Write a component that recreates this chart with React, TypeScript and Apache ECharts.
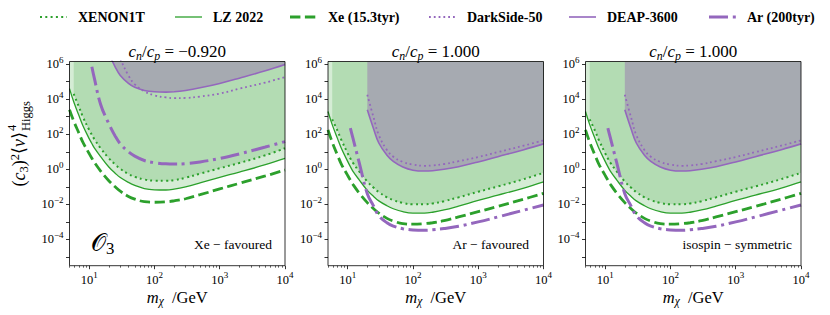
import React, { useEffect, useRef } from "react";
import * as echarts from "echarts";

// Dark-matter mass grid (GeV)
const masses = [5, 5.8, 7, 8, 10, 11, 12, 15, 20, 25, 30, 40, 50, 70, 100, 150, 200, 300, 500, 1000, 2000, 5000, 10000];
const N = null;

// Panel 1: c_n/c_p = -0.920 (log10 of (c3)^2 <v>^4)
const xenon1tP1 = [N, 4.3, 3.55, 3.0, 2.25, 1.97, 1.72, 1.2, 0.63, 0.28, 0.03, -0.27, -0.43, -0.58, -0.65, -0.66, -0.62, -0.48, -0.25, 0.06, 0.36, 0.8, 1.2];
const lzP1 = [4.6, 3.85, 3.05, 2.5, 1.75, 1.47, 1.22, 0.72, 0.13, -0.22, -0.47, -0.75, -0.92, -1.1, -1.17, -1.18, -1.13, -1.0, -0.78, -0.46, -0.16, 0.26, 0.62];
const xeP1 = [3.4, 2.75, 2.05, 1.55, 0.9, 0.63, 0.4, -0.1, -0.65, -1.0, -1.25, -1.55, -1.7, -1.85, -1.88, -1.86, -1.8, -1.68, -1.45, -1.12, -0.8, -0.38, -0.04];
const darksideP1 = [N, N, N, N, N, N, N, N, 7.8, 7.0, 6.3, 5.35, 4.85, 4.45, 4.22, 4.1, 4.06, 4.07, 4.15, 4.32, 4.6, 4.95, 5.26];
const deapP1 = [N, N, N, N, N, N, N, N, 6.6, 5.85, 5.35, 4.9, 4.68, 4.5, 4.42, 4.4, 4.42, 4.5, 4.65, 4.9, 5.2, 5.62, 5.98];
const arP1 = [N, N, N, N, N, 5.85, 5.2, 3.7, 2.6, 1.9, 1.45, 1.0, 0.75, 0.5, 0.38, 0.31, 0.3, 0.32, 0.42, 0.62, 0.88, 1.27, 1.58];

// Panels 2 and 3: c_n/c_p = 1.000
const xenon1tIso = [N, 2.85, 2.2, 1.68, 0.92, 0.62, 0.38, -0.12, -0.7, -1.05, -1.3, -1.6, -1.76, -1.92, -2.0, -2.0, -1.95, -1.82, -1.6, -1.28, -0.98, -0.56, -0.2];
const lzIso = [3.3, 2.55, 1.75, 1.2, 0.45, 0.15, -0.1, -0.6, -1.2, -1.55, -1.8, -2.08, -2.25, -2.42, -2.5, -2.5, -2.45, -2.32, -2.1, -1.78, -1.48, -1.07, -0.72];
const xeIso = [2.25, 1.55, 0.8, 0.3, -0.35, -0.62, -0.85, -1.35, -1.9, -2.25, -2.5, -2.8, -2.95, -3.1, -3.13, -3.1, -3.05, -2.93, -2.72, -2.42, -2.12, -1.7, -1.37];
const darksideIso = [N, N, N, N, N, N, N, N, 4.25, 2.95, 1.95, 1.1, 0.72, 0.42, 0.27, 0.2, 0.22, 0.3, 0.46, 0.7, 0.98, 1.35, 1.65];
const deapIso = [N, N, N, N, N, N, N, N, 3.4, 2.3, 1.5, 0.8, 0.45, 0.13, -0.05, -0.1, -0.08, 0.0, 0.15, 0.42, 0.72, 1.12, 1.45];
const arIso = [N, N, N, N, N, 2.35, 1.8, 0.4, -1.4, -2.1, -2.65, -3.05, -3.24, -3.39, -3.46, -3.48, -3.45, -3.38, -3.25, -3.0, -2.72, -2.33, -2.04];

const panelRatios = ["−0.920", "1.000", "1.000"];
const panelNotes = ["Xe − favoured", "Ar − favoured", "isospin − symmetric"];
const legendNames = ["XENON1T", "LZ 2022", "Xe (15.3tyr)", "DarkSide-50", "DEAP-3600", "Ar (200tyr)"];

const xMajorExp = [1, 2, 3, 4];
const yTickExp = [-5, -4, -3, -2, -1, 0, 1, 2, 3, 4, 5, 6];
const yLabelExp = [-4, -2, 0, 2, 4, 6];

const FONT = "Liberation Serif, DejaVu Serif, serif";
const GREEN = "#2ca02c";
const PURPLE = "#9467bd";
const GRID_LEFTS = [69.5, 328, 585.5];
const GRID_TOP = 61.5;
const GRID_W = 215.5;
const GRID_H = 204.2;
const NOTE_RIGHT = [272, 529, 792];
const X_MIN = Math.log10(5);
const X_MAX = 4;
const Y_MIN = -5.5;
const Y_MAX = 6.15;

const xMinor: number[] = [];
for (let e = 0; e < 4; e++) {
  for (let k = 2; k < 10; k++) {
    const v = Math.log10(k) + e;
    if (v >= X_MIN - 1e-9 && v <= X_MAX) xMinor.push(v);
  }
}

const panelData = [
  { xenon1t: xenon1tP1, lz: lzP1, xe: xeP1, darkside: darksideP1, deap: deapP1, ar: arP1 },
  { xenon1t: xenon1tIso, lz: lzIso, xe: xeIso, darkside: darksideIso, deap: deapIso, ar: arIso },
  { xenon1t: xenon1tIso, lz: lzIso, xe: xeIso, darkside: darksideIso, deap: deapIso, ar: arIso },
];

const curveStyles = [
  { key: "xenon1t", color: GREEN, width: 2, dash: [2, 3.3] as any },
  { key: "lz", color: GREEN, width: 1.3, dash: "solid" as any },
  { key: "xe", color: GREEN, width: 2.8, dash: [10.4, 4.5] as any },
  { key: "darkside", color: PURPLE, width: 1.8, dash: [1.8, 3] as any },
  { key: "deap", color: PURPLE, width: 1.6, dash: "solid" as any },
  { key: "ar", color: PURPLE, width: 3, dash: [19, 4.8, 3, 4.8] as any },
];
const legendX = [40, 175, 290, 429, 569, 709];

function pts(vals: (number | null)[]) {
  const out: number[][] = [];
  masses.forEach((m, i) => {
    const v = vals[i];
    if (v !== null && v !== undefined) out.push([Math.log10(m), v]);
  });
  return out;
}

function expStr(v: number) {
  const s = Math.round(v);
  return s < 0 ? "−" + -s : String(s);
}

const tok = (size: number, lh: number, va: string, italic = false, family = FONT) => ({
  fontFamily: family,
  fontSize: size,
  fontStyle: italic ? "italic" : "normal",
  color: "#000",
  lineHeight: lh,
  verticalAlign: va,
});

const tickRich = {
  b: tok(12.5, 18, "middle"),
  s: tok(9, 9, "top"),
};

const mathRich = (size: number) => ({
  i: tok(size, size + 4, "middle", true),
  r: tok(size, size + 4, "middle"),
  sb: tok(size * 0.7, size * 0.55, "bottom"),
  sbi: tok(size * 0.7, size * 0.55, "bottom", true),
  sp: tok(size * 0.7, size * 0.55, "top"),
  o: tok(size, size + 4, "middle", false, "DejaVu Sans, Noto Sans, serif"),
});

export default function App() {
  const ref = useRef<HTMLDivElement>(null);
  useEffect(() => {
    if (!ref.current) return;
    const chart = echarts.init(ref.current, undefined, { renderer: "svg" });
    const grids: any[] = [];
    const xAxes: any[] = [];
    const yAxes: any[] = [];
    const series: any[] = [];
    const graphics: any[] = [];

    GRID_LEFTS.forEach((left, p) => {
      grids.push({ left, top: GRID_TOP, width: GRID_W, height: GRID_H, containLabel: false });
      xAxes.push({
        gridIndex: p, type: "value", position: "bottom", min: X_MIN, max: X_MAX,
        axisLine: { show: false, onZero: false }, splitLine: { show: false },
        axisTick: { show: true, customValues: xMajorExp, length: 3.5, lineStyle: { color: "#000", width: 0.8 } },
        axisLabel: { show: true, customValues: xMajorExp, margin: 5, fontFamily: FONT, formatter: (v: number) => `{b|10}{s|${expStr(v)}}`, rich: tickRich },
      });
      xAxes.push({
        gridIndex: p, type: "value", position: "bottom", min: X_MIN, max: X_MAX,
        axisLine: { show: false, onZero: false }, splitLine: { show: false },
        axisTick: { show: true, customValues: xMinor, length: 2, lineStyle: { color: "#000", width: 0.6 } },
        axisLabel: { show: false },
      });
      yAxes.push({
        gridIndex: p, type: "value", min: Y_MIN, max: Y_MAX,
        axisLine: { show: false, onZero: false }, splitLine: { show: false },
        axisTick: { show: true, customValues: yTickExp, length: 3.5, lineStyle: { color: "#000", width: 0.8 } },
        axisLabel: { show: true, customValues: yLabelExp, margin: 6, fontFamily: FONT, formatter: (v: number) => `{b|10}{s|${expStr(v)}}`, rich: tickRich },
      });

      const d: any = panelData[p];
      const common = { xAxisIndex: 2 * p, yAxisIndex: p, symbol: "none", smooth: 0.4, silent: true, animation: false };
      ["lz", "xenon1t"].forEach((k) => {
        series.push({
          ...common, type: "line", data: pts(d[k]), z: 1,
          lineStyle: { width: 0, opacity: 0 },
          areaStyle: { origin: "end", color: "rgba(44,160,44,0.2)", opacity: 1 },
        });
      });
      series.push({
        ...common, type: "line", data: pts(d.deap), z: 2,
        lineStyle: { width: 0, opacity: 0 },
        areaStyle: { origin: "end", color: "#a6aab1", opacity: 1 },
      });
      curveStyles.forEach((cs) => {
        series.push({
          ...common, type: "line", data: pts(d[cs.key]), z: 3,
          lineStyle: { color: cs.color, width: cs.width, type: cs.dash },
        });
      });

      const cx = left + GRID_W / 2;
      graphics.push({
        type: "rect", z: 100, silent: true,
        shape: { x: left, y: GRID_TOP, width: GRID_W, height: GRID_H },
        style: { fill: "none", stroke: "#000", lineWidth: 0.8 },
      });
      graphics.push({
        type: "text", z: 100, x: cx, y: 51,
        style: {
          text: `{i|c}{sbi|n}{r|/}{i|c}{sbi|p}{r| = ${panelRatios[p]}}`, font: `17px ${FONT}`,
          rich: mathRich(17), textAlign: "center", textVerticalAlign: "middle", verticalAlign: "middle", align: "center",
        },
      });
      graphics.push({
        type: "text", z: 100, x: cx, y: 297,
        style: {
          text: `{i|m}{sbi|χ}{r|  /GeV}`, font: `16.5px ${FONT}`,
          rich: mathRich(16.5), textAlign: "center", textVerticalAlign: "middle", verticalAlign: "middle", align: "center",
        },
      });
      graphics.push({
        type: "text", z: 100, x: NOTE_RIGHT[p], y: 244,
        style: {
          text: panelNotes[p], font: `13.5px ${FONT}`, fill: "#000",
          textAlign: "right", textVerticalAlign: "middle", verticalAlign: "middle", align: "right",
        },
      });
    });

    graphics.push({
      type: "text", z: 100, x: 91, y: 243,
      style: {
        text: `{o|𝒪}{sb|3}`, font: `24px ${FONT}`, rich: mathRich(24),
        textAlign: "left", textVerticalAlign: "middle", verticalAlign: "middle", align: "left",
      },
    });

    graphics.push({
      type: "group", x: 19, y: 132, rotation: Math.PI / 2,
      children: [
        {
          type: "text", x: 0, y: 0,
          style: {
            text: `{r|(}{i|c}{sb|3}{r|)}{sp|2}{r|⟨}{i|v}{r|⟩}`, font: `18px ${FONT}`, rich: mathRich(18),
            textAlign: "right", textVerticalAlign: "middle", verticalAlign: "middle", align: "right",
          },
        },
        {
          type: "text", x: 1, y: -7,
          style: { text: "4", font: `12.5px ${FONT}`, fill: "#000", textAlign: "left", textVerticalAlign: "middle", verticalAlign: "middle", align: "left" },
        },
        {
          type: "text", x: 1, y: 7,
          style: { text: "Higgs", font: `12.5px ${FONT}`, fill: "#000", textAlign: "left", textVerticalAlign: "middle", verticalAlign: "middle", align: "left" },
        },
      ],
    });

    curveStyles.forEach((cs, i) => {
      const x0 = legendX[i];
      graphics.push({
        type: "line", z: 100, silent: true,
        shape: { x1: x0, y1: 17, x2: x0 + 27, y2: 17 },
        style: { stroke: cs.color, lineWidth: cs.width, lineDash: cs.dash === "solid" ? null : cs.dash },
      });
      graphics.push({
        type: "text", z: 100, x: x0 + 38, y: 17,
        style: {
          text: legendNames[i], font: `bold 14px ${FONT}`, fill: "#000",
          textAlign: "left", textVerticalAlign: "middle", verticalAlign: "middle", align: "left",
        },
      });
    });

    chart.setOption({
      animation: false,
      backgroundColor: "#fff",
      textStyle: { fontFamily: FONT },
      grid: grids,
      xAxis: xAxes,
      yAxis: yAxes,
      series,
      graphic: { elements: graphics },
    });
    return () => chart.dispose();
  }, []);
  return <div ref={ref} style={{ position: "fixed", left: 0, top: 0, width: 830, height: 315 }} />;
}
